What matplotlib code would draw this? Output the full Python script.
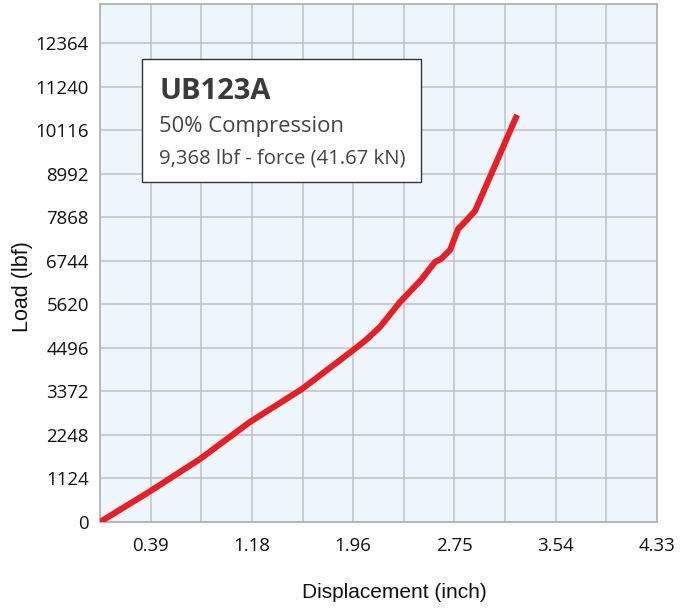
import matplotlib
matplotlib.use("Agg")
import matplotlib.pyplot as plt
from matplotlib.patches import Rectangle
import numpy as np

# Data (displacement in inches, load in lbf)
displacement = [0.0, 0.381, 0.778, 1.166, 1.571, 1.960, 2.068, 2.177, 2.333,
                2.496, 2.605, 2.652, 2.722, 2.784, 2.823, 2.916, 3.243]
load = [0, 775, 1627, 2582, 3434, 4415, 4699, 5035, 5680,
        6248, 6713, 6791, 7023, 7565, 7694, 8030, 10509]

x_tick_labels = ["0.39", "1.18", "1.96", "2.75", "3.54", "4.33"]
y_tick_labels = ["0", "1124", "2248", "3372", "4496", "5620", "6744",
                 "7868", "8992", "10116", "11240", "12364"]

title = "UB123A"
subtitle = "50% Compression"
force_text = "9,368 lbf - force (41.67 kN)"

W, H = 689, 608
fig = plt.figure(figsize=(W / 100, H / 100), dpi=100)
ax = fig.add_axes([100 / W, (H - 522) / H, 557 / W, 518 / H])
ax.set_facecolor("#EEF6FC")

cm = 1 / 2.54
ax.set_xlim(0, 11 * cm)
ax.set_ylim(0, 13372)

grid_x = [i * cm for i in range(1, 11)]
ax.set_xticks(grid_x, minor=True)
ax.set_xticks([(2 * i + 1) * cm for i in range(len(x_tick_labels))])
ax.set_xticklabels(x_tick_labels)
y_ticks = [float(s) for s in y_tick_labels]
ax.set_yticks(y_ticks)
ax.set_yticklabels(y_tick_labels)

gc = "#BDC2C6"
ax.grid(True, which="both", color=gc, linewidth=1.1)
ax.set_axisbelow(True)
for s in ax.spines.values():
    s.set_color("#B0B4B8")
    s.set_linewidth(1.3)

ax.tick_params(axis="both", which="both", length=0)
ax.tick_params(axis="y", pad=8)
ax.tick_params(axis="x", pad=11)
for lbl in ax.get_xticklabels() + ax.get_yticklabels():
    lbl.set_fontfamily("Open Sans")
    lbl.set_fontsize(13.4)
    lbl.set_color("#111111")

ax.plot(displacement, load, color="#EC1C24", linewidth=4.4,
        solid_capstyle="butt", solid_joinstyle="round", clip_on=True, zorder=3)

# Axis labels
fig.text(394 / W, (H - 592) / H, "Displacement (inch)", ha="center", va="center",
         fontsize=15, family="Liberation Sans", color="#111111")
fig.text(22.5 / W, (H - 287) / H, "Load (lbf)", ha="center", va="center",
         rotation=90, fontsize=15.5, family="Liberation Sans", color="#111111")

# Info box
box = Rectangle((142 / W, (H - 182) / H), 279 / W, 123 / H,
                transform=fig.transFigure, facecolor="white",
                edgecolor="#333333", linewidth=1.0, zorder=5)
fig.add_artist(box)
fig.text(159 / W, (H - 99.3) / H, title, ha="left", va="baseline",
         fontsize=21, fontweight="bold", family="Open Sans", color="#3A3A3A", zorder=6)
fig.text(159 / W, (H - 131.7) / H, subtitle, ha="left", va="baseline",
         fontsize=15.8, family="Open Sans", color="#444444", zorder=6)
fig.text(159 / W, (H - 163.3) / H, force_text, ha="left", va="baseline",
         fontsize=14.6, family="Open Sans", color="#444444", zorder=6)

fig.savefig("out.png", dpi=100)
